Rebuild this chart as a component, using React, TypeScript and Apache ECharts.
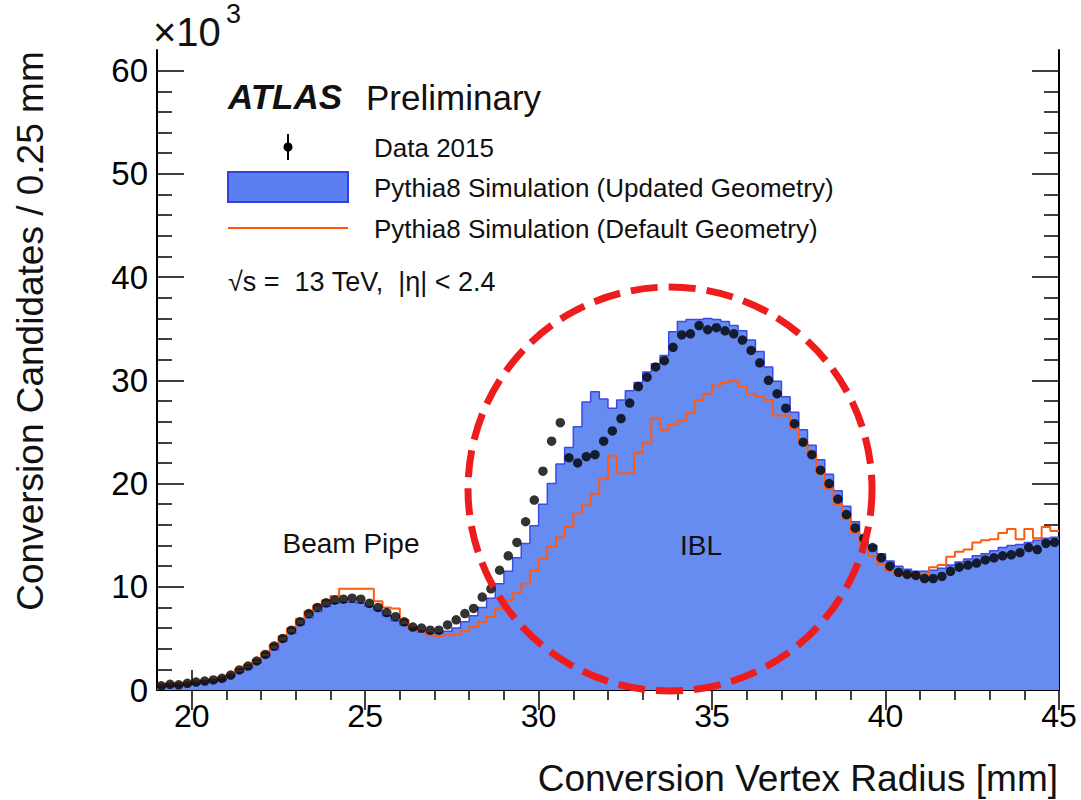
import React, { useEffect, useRef } from 'react';
import * as echarts from 'echarts';

// ---- axis definitions ----
const X_MIN = 19;
const X_MAX = 45;
const BIN_WIDTH = 0.25;
const Y_MIN = 0;
const Y_MAX = 62;
const X_MAJOR_TICKS = [20, 25, 30, 35, 40, 45];
const X_MINOR_TICKS = [21, 22, 23, 24, 26, 27, 28, 29, 31, 32, 33, 34, 36, 37, 38, 39, 41, 42, 43, 44];
const Y_MAJOR_TICKS = [0, 10, 20, 30, 40, 50, 60];
const Y_MINOR_TICKS = [2, 4, 6, 8, 12, 14, 16, 18, 22, 24, 26, 28, 32, 34, 36, 38, 42, 44, 46, 48, 52, 54, 56, 58];

// ---- values (x10^3 per 0.25 mm bin, 104 bins from 19 to 45 mm) ----
const data2015 = [
  0.4, 0.55, 0.5, 0.65, 0.77, 0.87, 0.97, 1.13, 1.45, 1.94,
  2.32, 2.81, 3.45, 4.26, 5.0, 5.8, 6.6, 7.4, 8.0, 8.45,
  8.7, 8.8, 8.9, 8.8, 8.4, 8.0, 7.5, 7.1, 6.6, 6.1,
  6.0, 5.8, 5.8, 6.3, 6.8, 7.4, 7.9, 9.0, 9.8, 11.6,
  13.0, 14.3, 16.3, 18.4, 21.2, 24.1, 25.9, 22.5, 22.0, 22.6,
  22.8, 24.1, 25.1, 26.3, 27.8, 29.4, 30.3, 31.3, 31.9, 33.2,
  34.4, 34.5, 35.3, 34.9, 35.1, 34.8, 34.5, 33.9, 32.9, 31.7,
  30.0, 28.7, 27.3, 25.8, 24.0, 22.8, 21.3, 20.0, 18.5, 17.0,
  15.7, 14.7, 13.8, 12.8, 12.0, 11.4, 11.2, 11.1, 10.8, 10.8,
  11.0, 11.5, 11.9, 12.1, 12.3, 12.6, 12.8, 13.0, 13.1, 13.3,
  13.8, 13.6, 14.2, 14.3,
];

const updatedGeometry = [
  0.3, 0.4, 0.4, 0.5, 0.6, 0.7, 0.8, 1.0, 1.3, 1.7,
  2.1, 2.6, 3.2, 3.9, 4.7, 5.5, 6.3, 7.0, 7.6, 8.1,
  8.4, 8.5, 8.5, 8.4, 8.1, 7.7, 7.2, 6.7, 6.3, 5.9,
  5.6, 5.5, 5.5, 5.7, 6.0, 6.6, 7.2, 8.0, 8.9, 10.3,
  11.5, 12.8, 14.2, 15.9, 18.0, 20.0, 21.9, 23.5, 25.5, 27.9,
  28.9, 28.2, 27.3, 28.1, 29.0, 29.8, 30.8, 31.6, 32.4, 34.7,
  35.7, 35.9, 35.9, 36.0, 35.9, 35.7, 35.3, 34.8, 33.9, 32.8,
  31.3, 29.9, 28.4, 26.9, 25.2, 23.7, 22.3, 20.9, 19.3, 17.8,
  16.3, 15.0, 14.0, 13.2, 12.5, 12.0, 11.7, 11.5, 11.5, 11.6,
  11.8, 12.1, 12.4, 12.7, 13.0, 13.2, 13.5, 13.8, 14.0, 14.1,
  14.3, 14.5, 14.7, 14.8,
];

const defaultGeometry = [
  0.5, 0.6, 0.6, 0.7, 0.8, 0.9, 1.0, 1.2, 1.5, 2.0,
  2.4, 2.9, 3.6, 4.4, 5.2, 6.0, 6.9, 7.6, 8.2, 8.7,
  9.1, 9.8, 9.8, 9.8, 9.8, 8.6, 8.0, 7.9, 6.8, 6.0,
  5.7, 5.3, 5.2, 5.3, 5.4, 5.7, 6.1, 6.6, 7.1, 7.9,
  8.7, 9.4, 10.3, 11.6, 12.7, 13.9, 14.8, 15.8, 17.1, 17.9,
  19.0, 20.5, 22.7, 21.0, 21.0, 23.0, 23.9, 26.3, 25.2, 25.7,
  26.1, 26.8, 28.1, 28.7, 29.5, 29.8, 30.0, 29.4, 28.7, 28.4,
  28.1, 26.6, 26.6, 25.3, 24.0, 22.9, 21.0, 19.5, 18.0, 16.6,
  15.2, 14.0, 13.0, 12.2, 11.5, 11.2, 11.1, 11.1, 11.2, 11.9,
  12.1, 12.9, 13.4, 13.6, 14.3, 14.5, 14.6, 15.2, 15.6, 14.6,
  15.6, 14.7, 15.8, 15.4,
];

const FONT = '"Liberation Sans", Arial, Helvetica, sans-serif';

const lowEdges = data2015.map((_, i) => X_MIN + i * BIN_WIDTH);
const centers = lowEdges.map((e) => e + BIN_WIDTH / 2);
const stepData = (vals: number[]) => [
  ...vals.map((v, i) => [lowEdges[i], v]),
  [X_MAX, vals[vals.length - 1]],
];

function makeXAxis(position: 'top' | 'bottom', major: boolean, labels: boolean) {
  return {
    type: 'value',
    position,
    min: X_MIN,
    max: X_MAX,
    axisLine: { show: major, lineStyle: { color: '#000', width: 2 } },
    axisTick: {
      show: true,
      inside: true,
      length: major ? 20 : 10,
      customValues: major ? X_MAJOR_TICKS : X_MINOR_TICKS,
      lineStyle: { color: '#000', width: 1.5 },
    },
    axisLabel: labels
      ? { show: true, customValues: X_MAJOR_TICKS, fontSize: 32, color: '#000', fontFamily: FONT, margin: 10 }
      : { show: false },
    splitLine: { show: false },
  };
}

function makeYAxis(position: 'left' | 'right', major: boolean, labels: boolean) {
  return {
    type: 'value',
    position,
    min: Y_MIN,
    max: Y_MAX,
    axisLine: { show: major, lineStyle: { color: '#000', width: 2 } },
    axisTick: {
      show: true,
      inside: true,
      length: major ? 27 : 15,
      customValues: major ? Y_MAJOR_TICKS : Y_MINOR_TICKS,
      lineStyle: { color: '#000', width: 1.5 },
    },
    axisLabel: labels
      ? { show: true, customValues: Y_MAJOR_TICKS, fontSize: 33, color: '#000', fontFamily: FONT, margin: 9 }
      : { show: false },
    splitLine: { show: false },
  };
}

export default function App() {
  const ref = useRef<HTMLDivElement>(null);
  useEffect(() => {
    if (!ref.current) return;
    const chart = echarts.init(ref.current, undefined, { renderer: 'svg' });
    const txt = (x: number, y: number, text: string, size: number, extra: any = {}) => ({
      type: 'text',
      x,
      y,
      z: 50,
      style: {
        text,
        fontSize: size,
        fontFamily: FONT,
        fill: '#111',
        textVerticalAlign: 'middle',
        ...extra,
      },
    });
    chart.setOption({
      animation: false,
      backgroundColor: '#fff',
      grid: { left: 157, right: 22, top: 50, bottom: 110, containLabel: false },
      xAxis: [
        makeXAxis('bottom', true, true),
        makeXAxis('bottom', false, false),
        makeXAxis('top', true, false),
        makeXAxis('top', false, false),
      ],
      yAxis: [
        makeYAxis('left', true, true),
        makeYAxis('left', false, false),
        makeYAxis('right', true, false),
        makeYAxis('right', false, false),
      ],
      series: [
        {
          name: 'Pythia8 Simulation (Updated Geometry)',
          type: 'line',
          step: 'end',
          data: stepData(updatedGeometry),
          symbol: 'none',
          lineStyle: { color: '#3f4ae6', width: 1.5 },
          areaStyle: { color: '#668cf2', opacity: 1 },
          z: 1,
        },
        {
          name: 'Pythia8 Simulation (Default Geometry)',
          type: 'line',
          step: 'end',
          data: stepData(defaultGeometry),
          symbol: 'none',
          lineStyle: { color: '#ff5a12', width: 2 },
          z: 2,
        },
        {
          name: 'Data 2015',
          type: 'scatter',
          data: centers.map((c, i) => [c, data2015[i]]),
          symbol: 'circle',
          symbolSize: 9.5,
          itemStyle: { color: '#000' },
          z: 3,
        },
      ],
      graphic: [
        // x10^3 multiplier
        txt(153, 32, '×10', 40),
        txt(226, 14, '3', 27),
        // axis titles
        txt(1058, 778, 'Conversion Vertex Radius [mm]', 37, { textAlign: 'right' }),
        {
          type: 'text',
          x: 30,
          y: 331,
          rotation: Math.PI / 2,
          z: 50,
          style: {
            text: 'Conversion Candidates / 0.25 mm',
            fontSize: 37,
            fontFamily: FONT,
            fill: '#111',
            textAlign: 'center',
            textVerticalAlign: 'middle',
          },
        },
        // ATLAS label
        txt(228, 96, 'ATLAS', 35, { fontWeight: 'bold', fontStyle: 'italic' }),
        txt(366, 97, 'Preliminary', 35),
        // legend
        { type: 'line', z: 50, shape: { x1: 288, y1: 134, x2: 288, y2: 160 }, style: { stroke: '#000', lineWidth: 2 } },
        { type: 'circle', z: 51, shape: { cx: 288, cy: 147, r: 4.5 }, style: { fill: '#000' } },
        txt(374, 148, 'Data 2015', 26),
        { type: 'rect', z: 50, shape: { x: 228, y: 172, width: 120, height: 30 }, style: { fill: '#5b7ff0', stroke: '#3340e0', lineWidth: 2 } },
        txt(374, 188, 'Pythia8 Simulation (Updated Geometry)', 26),
        { type: 'line', z: 50, shape: { x1: 228, y1: 228, x2: 348, y2: 228 }, style: { stroke: '#ff5a12', lineWidth: 2 } },
        txt(374, 229, 'Pythia8 Simulation (Default Geometry)', 26),
        txt(228, 282, '√s =  13 TeV,  |η| < 2.4', 27),
        // annotations
        txt(351, 543, 'Beam Pipe', 28, { textAlign: 'center' }),
        txt(701, 545, 'IBL', 28, { textAlign: 'center' }),
        // red dashed circle
        {
          type: 'circle',
          z: 60,
          shape: { cx: 670, cy: 489, r: 202 },
          style: { fill: 'none', stroke: '#ee1c1c', lineWidth: 7, lineDash: [27, 11] },
        },
      ],
    });
    return () => chart.dispose();
  }, []);
  return <div ref={ref} style={{ position: 'fixed', left: 0, top: 0, width: 1081, height: 800 }} />;
}
